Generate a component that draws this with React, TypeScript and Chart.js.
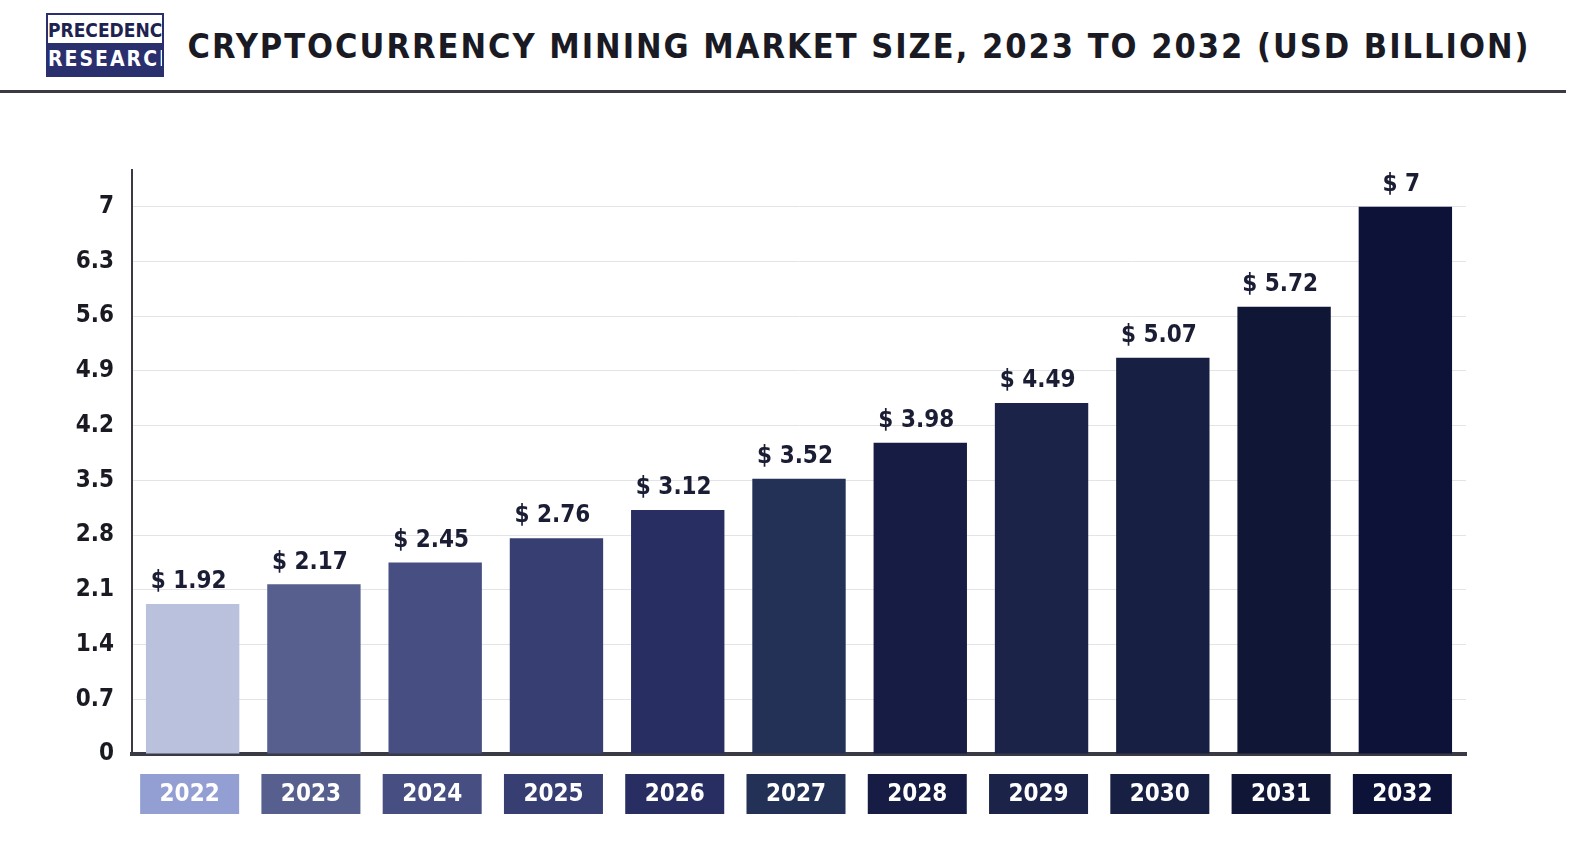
import React, { useEffect, useRef } from "react";
import { Chart, registerables } from "chart.js";
Chart.register(...registerables);

const years = ["2022","2023","2024","2025","2026","2027","2028","2029","2030","2031","2032"];
const values = [1.92,2.17,2.45,2.76,3.12,3.52,3.98,4.49,5.07,5.72,7];
const barColors = ["#b9c1dd","#575f8e","#474f82","#373e72","#282e62","#243156","#161c44","#1b2349","#172042","#101636","#0d1238"];
const boxColors = ["#939ed2","#575f8e","#474f82","#373e72","#282e62","#243156","#161c44","#1b2349","#172042","#101636","#0d1238"];
const yTicks = [0,0.7,1.4,2.1,2.8,3.5,4.2,4.9,5.6,6.3,7];
const FAMILY = "'DejaVu Sans', sans-serif";
const CFONT = (size: number) => `bold condensed ${size}px ${FAMILY}`;

export default function App() {
  const ref = useRef<HTMLCanvasElement>(null);
  useEffect(() => {
    document.body.style.margin = "0";
    document.body.style.overflow = "hidden";
    const labelPlugin = {
      id: "extras",
      afterDatasetsDraw(chart: any) {
        const ctx = chart.ctx;
        const meta = chart.getDatasetMeta(0);
        const x = chart.scales.x;
        const y = chart.scales.y;
        ctx.save();
        ctx.font = CFONT(24);
        ctx.textAlign = "right";
        ctx.textBaseline = "middle";
        ctx.fillStyle = "#1a1a22";
        yTicks.forEach((v) => ctx.fillText(String(v), 114, y.getPixelForValue(v)));
        ctx.textAlign = "center";
        meta.data.forEach((bar: any, i: number) => {
          ctx.fillStyle = "#1a1d33";
          ctx.textBaseline = "bottom";
          ctx.fillText("$ " + values[i], bar.x - 4, bar.y - 10);
          const cx = x.getPixelForValue(i) - 3;
          const w = 99, h = 40, top = chart.chartArea.bottom + 20;
          ctx.fillStyle = boxColors[i];
          ctx.fillRect(cx - w / 2, top, w, h);
          ctx.fillStyle = "#ffffff";
          ctx.textBaseline = "middle";
          ctx.fillText(years[i], cx, top + h / 2 + 1);
        });
        ctx.restore();
      },
    };
    const chart = new Chart(ref.current!, {
      type: "bar",
      data: {
        labels: years,
        datasets: [{ data: values, backgroundColor: barColors, barPercentage: 0.77, categoryPercentage: 1 }],
      },
      options: {
        animation: false,
        responsive: false,
        layout: { padding: { left: 0, right: 126, top: 70, bottom: 88 } },
        plugins: { legend: { display: false }, tooltip: { enabled: false } },
        scales: {
          x: {
            ticks: { display: false },
            grid: { display: false },
            border: { color: "#3a3a44", width: 4 },
          },
          y: {
            min: 0,
            max: 7.47,
            afterBuildTicks: (s: any) => { s.ticks = yTicks.map((v) => ({ value: v })); },
            afterFit: (s: any) => { s.width = 132; },
            ticks: { display: false },
            grid: { color: "#e4e4e8", drawTicks: false },
            border: { color: "#3a3a44", width: 2 },
          },
        },
      },
      plugins: [labelPlugin],
    });
    return () => chart.destroy();
  }, []);
  return (
    <div style={{ position: "absolute", left: 0, top: 0, width: 1592, height: 858, overflow: "hidden", background: "#fff", fontFamily: FAMILY, fontStretch: "condensed" }}>
      <div style={{ position: "absolute", left: 46, top: 13, width: 118, height: 64, border: "2px solid #2a2f6e", boxSizing: "border-box", overflow: "hidden" }}>
        <div style={{ height: 28, color: "#1d2250", fontWeight: "bold", fontSize: 19, textAlign: "center", lineHeight: "30px" }}>PRECEDENCE</div>
        <div style={{ height: 32, background: "#2a2f6e", color: "#fff", fontWeight: "bold", fontSize: 21, textAlign: "center", lineHeight: "32px", letterSpacing: 2 }}>RESEARCH</div>
      </div>
      <div style={{ position: "absolute", left: 0, width: 1718, top: 26, textAlign: "center", fontSize: 34, fontWeight: "bold", color: "#1a1a24", letterSpacing: 2 }}>
        CRYPTOCURRENCY MINING MARKET SIZE, 2023 TO 2032 (USD BILLION)
      </div>
      <div style={{ position: "absolute", left: 0, top: 90, width: 1566, height: 3, background: "#3a3a44" }} />
      <canvas ref={ref} width={1592} height={750} style={{ position: "absolute", left: 0, top: 100 }} />
    </div>
  );
}
